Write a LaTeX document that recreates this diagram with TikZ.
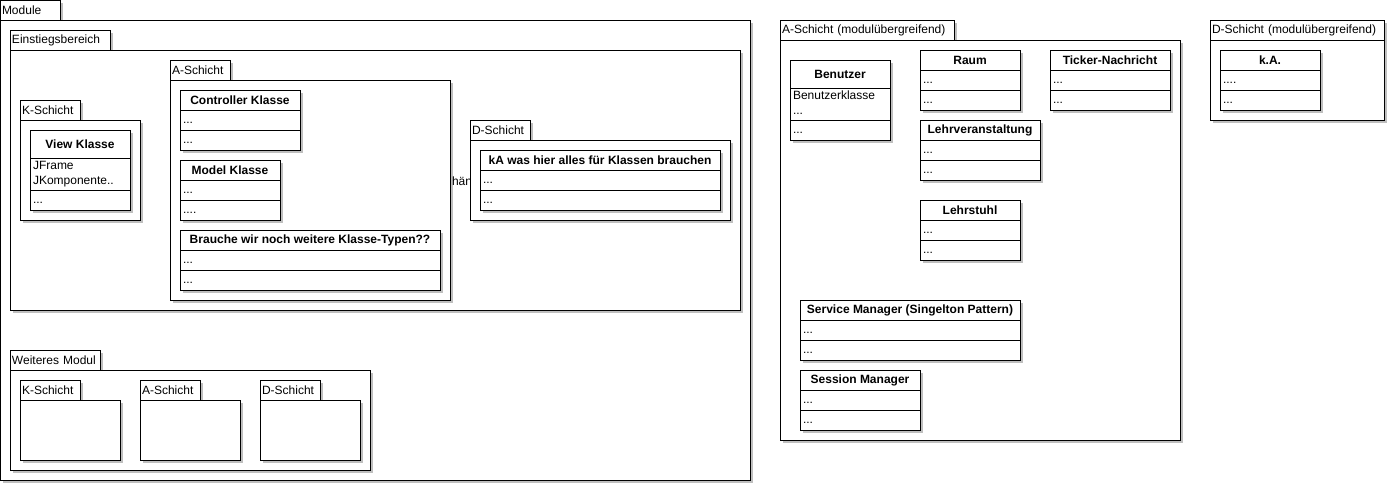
\documentclass[tikz,border=0pt]{standalone}
\usepackage{fontspec}
\setmainfont{Liberation Sans}
\usepackage{tikz}
\usetikzlibrary{positioning}
\usetikzlibrary{shadows}

\tikzset{
  schatten/.style={drop shadow={shadow xshift=3pt, shadow yshift=-3pt, fill=black!25, opacity=1}},
  reiter/.style={draw, fill=white, schatten, anchor=south west, inner xsep=2pt, inner ysep=0pt, minimum height=20pt, text width=#1, align=left},
  paket/.style={draw, fill=white, schatten, anchor=north west, inner sep=0pt},
  kopf/.style={draw, fill=white, schatten, anchor=north west, inner sep=0pt, minimum height=20pt, minimum width=#1, font=\bfseries},
  feld/.style={draw, fill=white, schatten, inner xsep=3pt, inner ysep=0pt, minimum height=20pt, text width=#1, align=left,
    execute at begin node=\strut, execute at end node=\strut},
}

\begin{document}
\fontsize{12}{15}\selectfont
\begin{tikzpicture}[x=1pt, y=-1pt, line width=1pt, outer sep=0pt]
			\useasboundingbox (0,0) rectangle (1390,485);
			% Module
			\node[reiter=56pt] (modTab) at (0,20) {Module};
			\node[paket, minimum width=750pt, minimum height=460pt] (modul) at (0,20) {};
			% Einstiegsbereich
			\node[reiter=96pt] (einTab) at (10,50) {Einstiegsbereich};
			\node[paket, minimum width=730pt, minimum height=260pt] (ein) at (10,50) {};
			% K-Schicht
			\node[reiter=56pt] (kTab) at (20,120) {K-Schicht};
			\node[paket, minimum width=120pt, minimum height=100pt] (k) at (20,120) {};
			\node[kopf=100pt, minimum height=28pt] (view) at (30,130) {View Klasse};
			\node[feld=94pt, minimum height=32pt, below=0pt of view] (viewA) {JFrame\\JKomponente..};
			\node[feld=94pt, below=0pt of viewA] (viewO) {...};
			% A-Schicht
			\node[reiter=56pt] (aTab) at (170,80) {A-Schicht};
			\node[paket, minimum width=280pt, minimum height=220pt] (a) at (170,80) {};
			\node[kopf=120pt] (ctrl) at (180,90) {Controller Klasse};
			\node[feld=114pt, below=0pt of ctrl] (ctrlA) {...};
			\node[feld=114pt, below=0pt of ctrlA] (ctrlO) {...};
			\node[kopf=100pt] (model) at (180,160) {Model Klasse};
			\node[feld=94pt, below=0pt of model] (modelA) {...};
			\node[feld=94pt, below=0pt of modelA] (modelO) {....};
			\node[kopf=260pt] (typen) at (180,230) {Brauche wir noch weitere Klasse-Typen??};
			\node[feld=254pt, below=0pt of typen] (typenA) {...};
			\node[feld=254pt, below=0pt of typenA] (typenO) {...};
			\node[anchor=west, inner sep=0pt] (haen) at (452,181) {hän};
			% D-Schicht
			\node[reiter=56pt] (dTab) at (470,140) {D-Schicht};
			\node[paket, minimum width=260pt, minimum height=80pt] (d) at (470,140) {};
			\node[kopf=240pt] (ka) at (480,150) {kA was hier alles für Klassen brauchen};
			\node[feld=234pt, below=0pt of ka] (kaA) {...};
			\node[feld=234pt, below=0pt of kaA] (kaO) {...};
			% Weiteres Modul
			\node[reiter=86pt] (wTab) at (10,370) {Weiteres Modul};
			\node[paket, minimum width=360pt, minimum height=100pt] (w) at (10,370) {};
			\foreach \x/\n/\t in {20/wk/K-Schicht, 140/wa/A-Schicht, 260/wd/D-Schicht} {
				\node[reiter=56pt] (\n Tab) at (\x,400) {\t};
				\node[paket, minimum width=100pt, minimum height=60pt] (\n) at (\x,400) {};
			}
			% A-Schicht (modulübergreifend)
			\node[reiter=170pt] (auTab) at (780,40) {A-Schicht (modulübergreifend)};
			\node[paket, minimum width=400pt, minimum height=400pt] (au) at (780,40) {};
			\node[kopf=100pt, minimum height=28pt] (nutzer) at (790,60) {Benutzer};
			\node[feld=94pt, minimum height=32pt, below=0pt of nutzer] (nutzerA) {Benutzerklasse\\...};
			\node[feld=94pt, below=0pt of nutzerA] (nutzerO) {...};
			\node[kopf=100pt] (raum) at (920,50) {Raum};
			\node[feld=94pt, below=0pt of raum] (raumA) {...};
			\node[feld=94pt, below=0pt of raumA] (raumO) {...};
			\node[kopf=120pt] (ticker) at (1050,50) {Ticker-Nachricht};
			\node[feld=114pt, below=0pt of ticker] (tickerA) {...};
			\node[feld=114pt, below=0pt of tickerA] (tickerO) {...};
			\node[kopf=120pt] (lv) at (920,120) {Lehrveranstaltung};
			\node[feld=114pt, below=0pt of lv] (lvA) {...};
			\node[feld=114pt, below=0pt of lvA] (lvO) {...};
			\node[kopf=100pt] (ls) at (920,200) {Lehrstuhl};
			\node[feld=94pt, below=0pt of ls] (lsA) {...};
			\node[feld=94pt, below=0pt of lsA] (lsO) {...};
			\node[kopf=220pt] (service) at (800,300) {Service Manager (Singelton Pattern)};
			\node[feld=214pt, below=0pt of service] (serviceA) {...};
			\node[feld=214pt, below=0pt of serviceA] (serviceO) {...};
			\node[kopf=120pt] (session) at (800,370) {Session Manager};
			\node[feld=114pt, below=0pt of session] (sessionA) {...};
			\node[feld=114pt, below=0pt of sessionA] (sessionO) {...};
			% D-Schicht (modulübergreifend)
			\node[reiter=170pt] (duTab) at (1210,40) {D-Schicht (modulübergreifend)};
			\node[paket, minimum width=174pt, minimum height=80pt] (du) at (1210,40) {};
			\node[kopf=100pt] (kA) at (1220,50) {k.A.};
			\node[feld=94pt, below=0pt of kA] (kAA) {....};
			\node[feld=94pt, below=0pt of kAA] (kAO) {...};
		\end{tikzpicture}
\end{document}
